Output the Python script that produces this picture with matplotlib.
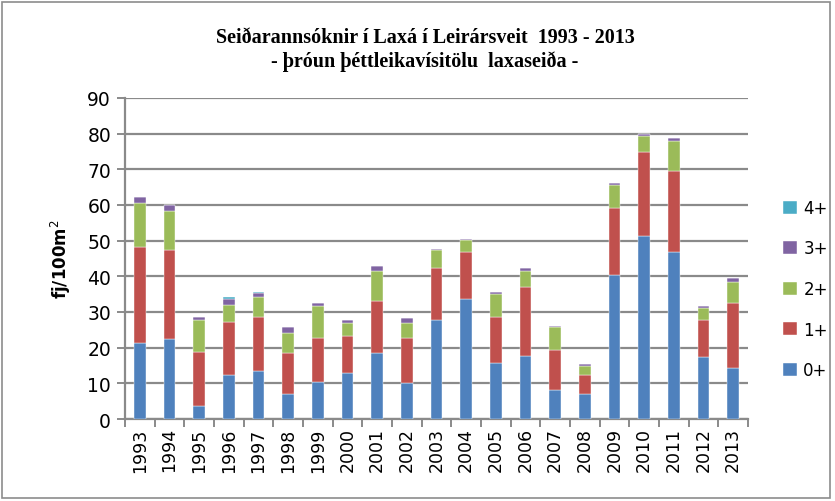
import matplotlib
matplotlib.use("Agg")
import matplotlib.pyplot as plt
import numpy as np
from matplotlib.patches import Rectangle

years = [str(y) for y in range(1993, 2014)]
age0 = [21.2, 22.3, 3.7, 12.4, 13.4, 7.1, 10.5, 12.9, 18.4, 10.0, 27.7,
        33.6, 15.8, 17.8, 8.0, 7.1, 40.4, 51.3, 46.9, 17.3, 14.4]
age1 = [27.1, 25.0, 15.2, 14.7, 15.3, 11.3, 12.3, 10.3, 14.7, 12.8, 14.6,
        13.2, 12.9, 19.1, 11.3, 5.2, 18.7, 23.6, 22.6, 10.4, 18.1]
age2 = [12.3, 10.9, 8.8, 5.0, 5.4, 5.8, 8.8, 3.6, 8.4, 4.0, 5.0,
        3.3, 6.3, 4.6, 6.4, 2.6, 6.4, 4.5, 8.4, 3.3, 6.0]
age3 = [1.6, 1.9, 1.0, 1.5, 1.2, 1.5, 1.0, 1.0, 1.4, 1.4, 0.5,
        0.3, 0.7, 0.9, 0.5, 0.5, 0.6, 0.5, 1.0, 0.6, 1.0]
age4 = [0, 0, 0, 0.5, 0.4, 0, 0, 0, 0, 0, 0,
        0, 0, 0, 0, 0, 0, 0, 0, 0, 0]

series = [("0+", age0, "#4F81BD"), ("1+", age1, "#C0504D"),
          ("2+", age2, "#9BBB59"), ("3+", age3, "#8064A2"),
          ("4+", age4, "#4BACC6")]

W, H = 835, 502
fig = plt.figure(figsize=(W / 100, H / 100), dpi=100)
fig.patches.append(Rectangle((0.002, 0.006), 0.992, 0.988, transform=fig.transFigure,
                             fill=False, edgecolor="#8c8c8c", linewidth=1.2))

left, right, top, bottom = 125, 748, 99, 420
ax = fig.add_axes([left / W, 1 - bottom / H, (right - left) / W, (bottom - top) / H])

x = np.arange(len(years))
base = np.zeros(len(years))
handles = []
for label, vals, color in series:
    b = ax.bar(x, vals, 0.4, bottom=base, color=color, edgecolor="white",
               linewidth=0.3, label=label, zorder=3)
    handles.append(b)
    base += np.array(vals)

ax.set_xlim(-0.5, len(years) - 0.5)
ax.set_ylim(0, 90)
ax.set_yticks(range(0, 91, 10))
ax.yaxis.grid(True, color="#8a8a8a", linewidth=1.6, zorder=0)
ax.set_axisbelow(True)

ax.set_xticks(x)
ax.set_xticklabels(years, rotation=90, fontsize=12.5)
ax.set_xticks(np.arange(-0.5, len(years), 1), minor=True)
ax.tick_params(axis="x", which="major", length=0, pad=6)
ax.tick_params(axis="x", which="minor", length=6, color="#8a8a8a", width=1.4)
ax.tick_params(axis="y", length=6, color="#8a8a8a", width=1.4, labelsize=13.5, pad=4)

for s in ["top", "right"]:
    ax.spines[s].set_visible(False)
ax.spines["left"].set_color("#8a8a8a")
ax.spines["left"].set_linewidth(1.6)
ax.spines["bottom"].set_color("#8a8a8a")
ax.spines["bottom"].set_linewidth(1.6)

ax.set_ylabel("fj/100m$^2$", fontsize=12, fontweight="bold", labelpad=10)

fig.text(0.509, 1 - 38 / H, "Seiðarannsóknir í Laxá í Leirársveit  1993 - 2013",
         ha="center", va="center", fontsize=14.5, fontweight="bold",
         family="Liberation Serif")
fig.text(0.509, 1 - 62 / H, "- þróun þéttleikavísitölu  laxaseiða -",
         ha="center", va="center", fontsize=14.5, fontweight="bold",
         family="Liberation Serif")

leg = fig.legend(handles[::-1], [s[0] for s in series][::-1],
                 loc="center left", bbox_to_anchor=(775 / W, 1 - 290 / H),
                 frameon=False, fontsize=12, handlelength=0.8, handleheight=0.8,
                 labelspacing=1.35, handletextpad=0.4, borderpad=0)

fig.savefig("out.png", dpi=100)
